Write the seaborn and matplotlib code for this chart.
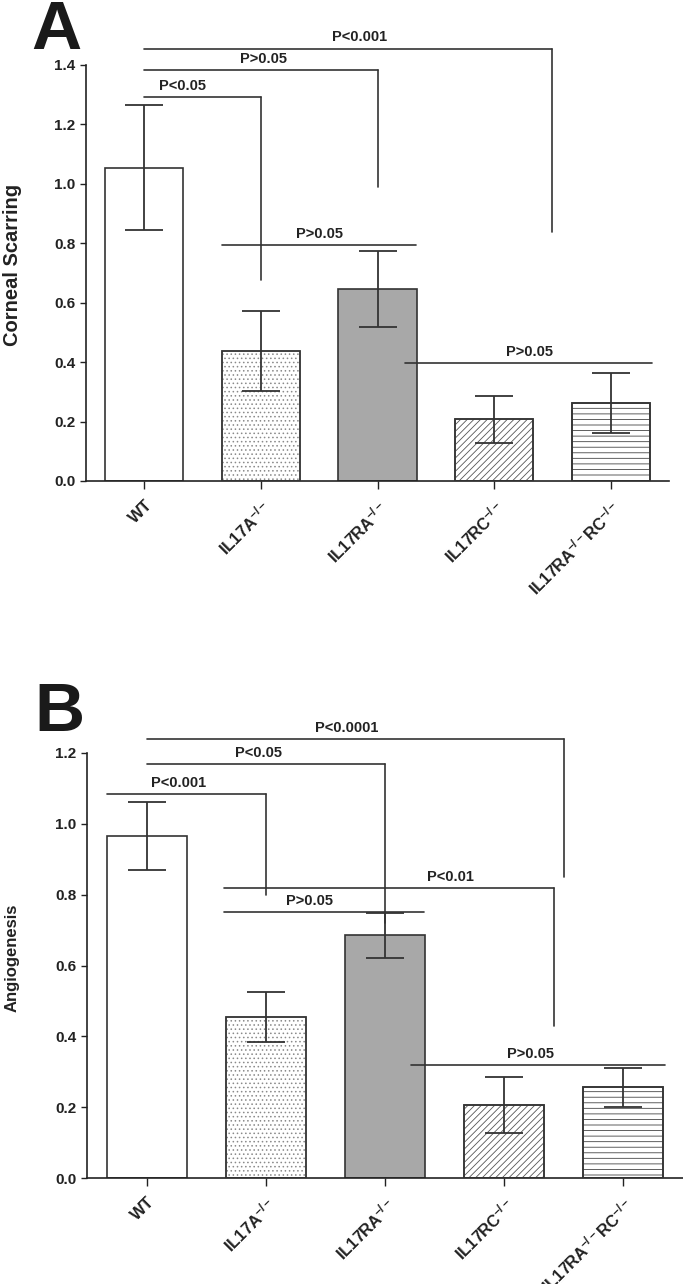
import matplotlib
matplotlib.use("Agg")
import pandas as pd
import matplotlib.pyplot as plt
import seaborn as sns
from matplotlib.patches import Rectangle

# --- Data ---
groups = ["WT", "IL17A-/-", "IL17RA-/-", "IL17RC-/-", "IL17RA-/-RC-/-"]
tick_labels = ["WT", r"IL17A$^{-/-}$", r"IL17RA$^{-/-}$", r"IL17RC$^{-/-}$",
               r"IL17RA$^{-/-}$RC$^{-/-}$"]

scar_mean = [1.055, 0.437, 0.647, 0.207, 0.262]
scar_sem = [0.210, 0.134, 0.128, 0.078, 0.100]
angio_mean = [0.967, 0.455, 0.685, 0.205, 0.256]
angio_sem = [0.096, 0.070, 0.063, 0.079, 0.055]

# brackets: (x start, x end, y, right arm stops at (None = flat), label, label x)
scar_brackets = [
    (0, 1, 1.293, 0.677, "P<0.05", 0.33),
    (0, 2, 1.384, 0.99, "P>0.05", 1.02),
    (0, 3.5, 1.455, 0.838, "P<0.001", 1.85),
    (0.67, 2.33, 0.795, None, "P>0.05", 1.5),
    (2.24, 4.35, 0.397, None, "P>0.05", 3.3),
]
angio_brackets = [
    (-0.33, 1, 1.085, 0.80, "P<0.001", 0.27),
    (0, 2, 1.169, 0.72, "P<0.05", 0.94),
    (0, 3.5, 1.240, 0.85, "P<0.0001", 1.68),
    (0.65, 3.42, 0.819, 0.43, "P<0.01", 2.55),
    (0.65, 2.33, 0.750, None, "P>0.05", 1.37),
    (2.22, 4.35, 0.319, None, "P>0.05", 3.22),
]

# --- Styling ---
face_colors = {"WT": "white", "IL17A-/-": "white", "IL17RA-/-": "#a8a8a8",
               "IL17RC-/-": "white", "IL17RA-/-RC-/-": "white"}
hatches = [None, "....", None, "/////", "---"]
hatch_colors = ["#333333", "#8a8a8a", "#333333", "#555555", "#444444"]
edge = "#333333"

sns.set_style("white")
plt.rcParams["font.family"] = ["Liberation Sans", "DejaVu Sans"]
plt.rcParams["font.weight"] = "bold"
plt.rcParams["mathtext.fontset"] = "custom"
plt.rcParams["mathtext.rm"] = "Liberation Sans:bold"
plt.rcParams["mathtext.bf"] = "Liberation Sans:bold"
plt.rcParams["mathtext.it"] = "Liberation Sans:bold"
plt.rcParams["mathtext.default"] = "bf"
plt.rcParams["hatch.linewidth"] = 0.6

fig = plt.figure(figsize=(6.83, 12.84), dpi=100)
ax_a = fig.add_axes([86 / 683, 1 - 481 / 1284, 583 / 683, 416 / 1284])
ax_b = fig.add_axes([87 / 683, 1 - 1178 / 1284, 596 / 683, 425 / 1284])


def draw_panel(ax, means, sems, brackets, ymax):
    df = pd.DataFrame({"group": groups, "value": means})
    sns.barplot(data=df, x="group", y="value", hue="group", palette=face_colors,
                width=0.67, edgecolor=edge, linewidth=1.2, errorbar=None,
                legend=False, ax=ax)
    for p, h, hc in zip(ax.patches, hatches, hatch_colors):
        if h:
            p.set_hatch(h)
            p.set_edgecolor(hc)
            ax.add_patch(Rectangle(p.get_xy(), p.get_width(), p.get_height(),
                                   fill=False, edgecolor=edge, lw=1.2, zorder=3))
    ax.errorbar(range(len(means)), means, yerr=sems, fmt="none", ecolor=edge,
                elinewidth=1.3, capsize=14, capthick=1.3, zorder=4)

    for x1, x2, y, stop, label, tx in brackets:
        ax.plot([x1, x2], [y, y], color=edge, lw=1.2, clip_on=False)
        if stop is not None:
            ax.plot([x2, x2], [y, stop], color=edge, lw=1.2, clip_on=False)
        ax.annotate(label, (tx, y), xytext=(0, 3), textcoords="offset points",
                    ha="center", va="bottom", fontsize=10.5, fontweight="bold",
                    color="#222222", annotation_clip=False)

    ax.set_xlim(-0.5, 4.5)
    ax.set_ylim(0, ymax)
    n = int(round(ymax / 0.2)) + 1
    ax.set_yticks([round(0.2 * i, 1) for i in range(n)])
    ax.set_yticklabels([f"{0.2 * i:.1f}" for i in range(n)],
                       fontsize=11, fontweight="bold")
    ax.set_xticks(range(len(groups)))
    ax.set_xticklabels(tick_labels, rotation=45, ha="right", rotation_mode="anchor",
                       fontsize=12, fontweight="bold")
    ax.set_xlabel("")
    ax.set_ylabel("")
    sns.despine(ax=ax)
    for s in ["left", "bottom"]:
        ax.spines[s].set_color("#222222")
        ax.spines[s].set_linewidth(1.2)
    ax.tick_params(axis="both", direction="out", length=4, width=1, color="#222222",
                   left=True, bottom=True, labelcolor="#222222")
    ax.tick_params(axis="x", length=6, pad=6)


draw_panel(ax_a, scar_mean, scar_sem, scar_brackets, 1.4)
draw_panel(ax_b, angio_mean, angio_sem, angio_brackets, 1.2)

fig.text(13 / 683, 1 - 265 / 1284, "Corneal Scarring", rotation=90, ha="center",
         va="center", fontsize=14.5, fontweight="bold", color="#222222")
fig.text(12 / 683, 1 - 958 / 1284, "Angiogenesis", rotation=90, ha="center",
         va="center", fontsize=12, fontweight="bold", color="#222222")

fig.text(31 / 683, 1 - 49 / 1284, "A", fontsize=50, fontweight="bold",
         color="#1a1a1a", va="baseline")
fig.text(34 / 683, 1 - 731 / 1284, "B", fontsize=50, fontweight="bold",
         color="#1a1a1a", va="baseline")

fig.savefig("out.png", dpi=100)
